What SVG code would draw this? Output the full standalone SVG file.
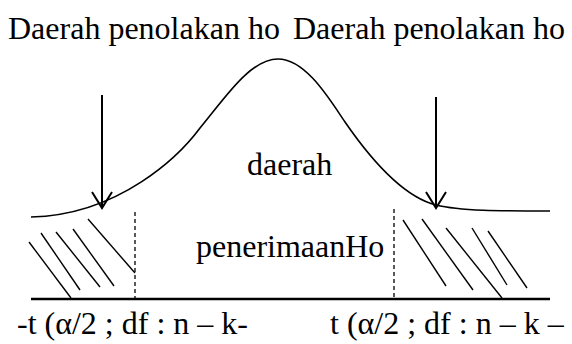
<svg xmlns="http://www.w3.org/2000/svg" width="572" height="344" viewBox="0 0 572 344">
<style>
.t { font-family: 'Liberation Serif', 'Times New Roman', Times, serif; font-size: 32px; fill: #000; }
.curve { fill: none; stroke: #000; stroke-width: 1.6; }
.hatch { stroke: #000; stroke-width: 1.4; }
.dash { stroke: #000; stroke-width: 1.3; stroke-dasharray: 4 3; }
.axis { stroke: #000; stroke-width: 2.5; }
.arrow { fill: none; stroke: #000; stroke-width: 2; }
</style>
<rect width="572" height="344" fill="#fff"/>
<g id="curve">
<path class="curve" d="M31,217 C120,215 180,155 200,128 C225,98 250,59 278,59 C306,59 330,100 345,122 C365,151 400,196 436,205 C460,211 500,211 550,211"/>
</g>
<g id="axis">
<line class="axis" x1="31" y1="299" x2="550" y2="299"/>
<line class="dash" x1="135" y1="212" x2="135" y2="298"/>
<line class="dash" x1="394" y1="209" x2="394" y2="298"/>
</g>
<g id="hatch-left">
<line class="hatch" x1="29" y1="242" x2="71" y2="298"/>
<line class="hatch" x1="41" y1="233" x2="80" y2="290"/>
<line class="hatch" x1="56" y1="232" x2="100" y2="287"/>
<line class="hatch" x1="73" y1="229" x2="114" y2="286"/>
<line class="hatch" x1="88" y1="219" x2="135" y2="273"/>
</g>
<g id="hatch-right">
<line class="hatch" x1="403" y1="220" x2="446" y2="286"/>
<line class="hatch" x1="422" y1="219" x2="473" y2="290"/>
<line class="hatch" x1="446" y1="228" x2="502" y2="298"/>
<line class="hatch" x1="472" y1="228" x2="507" y2="285"/>
<line class="hatch" x1="488" y1="231" x2="527" y2="288"/>
</g>
<g id="connectors">
<path class="arrow" d="M102,95 V207 M92,192 L102,208 L112,192"/>
<path class="arrow" d="M436,97 V207 M426,192 L436,208 L446,192"/>
</g>
<g id="label-left-top"><text class="t" x="8" y="39">Daerah penolakan ho</text></g>
<g id="label-right-top"><text class="t" x="293" y="39">Daerah penolakan ho</text></g>
<g id="label-center1"><text class="t" x="247" y="175">daerah</text></g>
<g id="label-center2"><text class="t" x="196" y="257">penerimaanHo</text></g>
<g id="label-left-bottom"><text class="t" x="17" y="334">-t (α/2 ; df : n – k-</text></g>
<g id="label-right-bottom"><text class="t" x="330" y="334">t (α/2 ; df : n – k –</text></g>
</svg>
